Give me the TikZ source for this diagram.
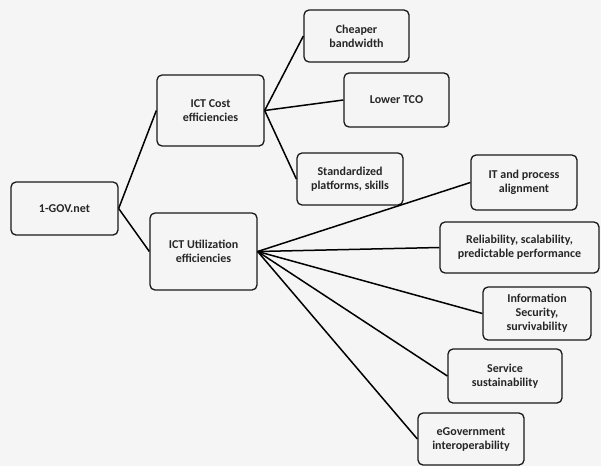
\documentclass[tikz,border=0pt]{standalone}
\usepackage{fontspec}
\setmainfont{Carlito}
\begin{document}
\begin{tikzpicture}[x=1pt,y=-1pt,
  box/.style={draw=black!90,line width=1.3pt,rounded corners=5pt,align=center,
    inner sep=0pt,font=\fontsize{12}{14}\selectfont\bfseries,text=black!85},
  link/.style={draw=black,line width=1.5pt}]
\fill[black!4] (0,0) rectangle (601,466);
\useasboundingbox (0,0) rectangle (601,466);
\node[box,minimum width=107pt,minimum height=53pt] (gov) at (64.5,208.5) {1-GOV.net};
\node[box,minimum width=107pt,minimum height=71pt] (cost) at (210.5,110.5) {ICT Cost\\efficiencies};
\node[box,minimum width=107pt,minimum height=77pt] (util) at (203.5,251.5) {ICT Utilization\\efficiencies};
\node[box,minimum width=105pt,minimum height=52pt] (cheap) at (356.5,36) {Cheaper\\bandwidth};
\node[box,minimum width=105pt,minimum height=54pt] (tco) at (396.5,100) {Lower TCO};
\node[box,minimum width=106pt,minimum height=52pt] (std) at (350,179) {Standardized\\platforms, skills};
\node[box,minimum width=106pt,minimum height=55pt] (itp) at (524,182.5) {IT and process\\alignment};
\node[box,minimum width=159pt,minimum height=51pt] (rel) at (519.5,247.5) {Reliability, scalability,\\predictable performance};
\node[box,minimum width=108pt,minimum height=53pt] (sec) at (537,313.5) {Information\\Security,\\survivability};
\node[box,minimum width=114pt,minimum height=54pt] (serv) at (505,376) {Service\\sustainability};
\node[box,minimum width=106pt,minimum height=52pt] (egov) at (471,439) {eGovernment\\interoperability};
\draw[link] (gov.east) -- (cost.west);
\draw[link] (gov.east) -- (util.west);
\draw[link] (cost.east) -- (cheap.west);
\draw[link] (cost.east) -- (tco.west);
\draw[link] (cost.east) -- (std.west);
\draw[link] (util.east) -- (itp.west);
\draw[link] (util.east) -- (rel.west);
\draw[link] (util.east) -- (sec.west);
\draw[link] (util.east) -- (serv.west);
\draw[link] (util.east) -- (egov.west);
\end{tikzpicture}
\end{document}
